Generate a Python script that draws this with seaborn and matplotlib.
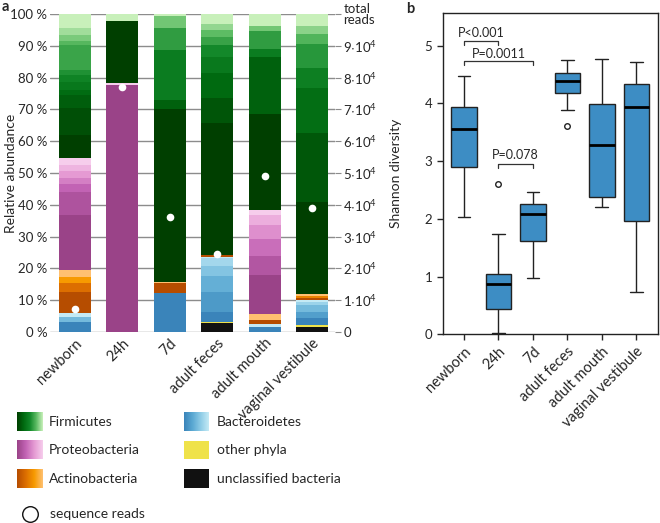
import numpy as np
import pandas as pd
import matplotlib.pyplot as plt
import matplotlib.colors as mcolors
from matplotlib.patches import Circle
import seaborn as sns

sns.set_style("ticks")
plt.rcParams["font.family"] = ["Lato", "DejaVu Sans"]
plt.rcParams["mathtext.default"] = "regular"

# -------------------------------
# Data
# -------------------------------
samples = ["newborn", "24h", "7d", "adult feces", "adult mouth", "vaginal vestibule"]
phyla = ["unclassified", "other", "Bacteroidetes", "Actinobacteria", "Proteobacteria", "Firmicutes"]

# relative abundance (%) of taxa, bottom to top, dark -> light inside a phylum
newborn = {
    "Bacteroidetes": [3.2, 1.6, 1.1],
    "Actinobacteria": [6.8, 2.6, 2.1, 2.1],
    "Proteobacteria": [17.3, 7.3, 2.4, 2.0, 2.0, 2.0, 2.1],
    "Firmicutes": [7.2, 8.5, 4.2, 1.6, 2.4, 2.3, 1.6, 7.9, 1.2, 1.9, 2.3, 4.3],
}
h24 = {
    "Proteobacteria": [77.8, 0.4],
    "Firmicutes": [19.6, 2.2],
}
d7 = {
    "Bacteroidetes": [12.2],
    "Actinobacteria": [3.1, 0.3],
    "Firmicutes": [54.4, 3.0, 15.6, 7.1, 3.7, 0.6],
}
adult_feces = {
    "unclassified": [2.9],
    "other": [0.4],
    "Bacteroidetes": [3.0, 6.2, 5.0, 3.1, 2.7, 0.3],
    "Actinobacteria": [0.6],
    "Firmicutes": [41.4, 8.1, 7.6, 5.3, 3.7, 2.6, 2.1, 1.8, 3.2],
}
adult_mouth = {
    "Bacteroidetes": [1.7, 0.8],
    "Actinobacteria": [1.3, 1.9],
    "Proteobacteria": [12.3, 5.8, 5.5, 4.5, 3.1, 1.5],
    "Firmicutes": [30.1, 17.9, 2.5, 5.6, 1.7, 3.8],
}
vaginal = {
    "unclassified": [1.5],
    "other": [0.7],
    "Bacteroidetes": [2.1, 2.1, 2.1, 1.0, 0.5],
    "Actinobacteria": [0.7, 0.6, 0.7],
    "Firmicutes": [28.9, 21.6, 14.3, 6.1, 7.6, 3.1, 2.7, 3.7],
}
compositions = [newborn, h24, d7, adult_feces, adult_mouth, vaginal]

# total sequence reads per sample
read_counts = [7200, 76900, 36100, 24600, 48900, 39000]

# Shannon diversity box summaries
shannon_low = [2.03, 0.02, 0.98, 3.88, 2.21, 0.74]
shannon_q1 = [2.89, 0.43, 1.62, 4.18, 2.38, 1.97]
shannon_med = [3.56, 0.87, 2.09, 4.38, 3.28, 3.93]
shannon_q3 = [3.93, 1.05, 2.25, 4.52, 3.99, 4.33]
shannon_high = [4.47, 1.73, 2.47, 4.75, 4.77, 4.71]
shannon_out = [[], [2.60], [], [3.61], [], []]

pvals = [("P<0.001", 0, 1, 5.08, 5.22), ("P=0.0011", 0, 2, 4.73, 4.86), ("P=0.078", 1, 2, 2.95, 3.10)]

# -------------------------------
# Colours
# -------------------------------
cmaps = {
    "Firmicutes": mcolors.LinearSegmentedColormap.from_list(
        "firm", ["#003f00", "#006a10", "#12882a", "#5cbb63", "#c8f0ba"]),
    "Proteobacteria": mcolors.LinearSegmentedColormap.from_list(
        "prot", ["#9a4388", "#c263b4", "#e59ad3", "#f6cdec"]),
    "Actinobacteria": mcolors.LinearSegmentedColormap.from_list(
        "acti", ["#b64d00", "#dc6e00", "#f79a00", "#ffc070"]),
    "Bacteroidetes": mcolors.LinearSegmentedColormap.from_list(
        "bact", ["#3a84ba", "#5aa8d2", "#8dcbe6", "#c4eaf5"]),
}
flat = {"unclassified": "#111111", "other": "#efe24a"}
box_color = "#3d8dc4"

fig = plt.figure(figsize=(6.6, 5.23), dpi=100)

# legend canvas in pixel coordinates
ax_leg = fig.add_axes([0, 0, 1, 1])
ax_leg.set_xlim(0, 660)
ax_leg.set_ylim(523, 0)
ax_leg.axis("off")

# -------------------------------
# Panel a: stacked composition
# -------------------------------
ax_a = fig.add_axes([50 / 660, 1 - 332 / 523, 285 / 660, 318 / 523])

rows = []
for s, comp in zip(samples, compositions):
    bottom = 0.0
    for ph in phyla:
        vals = comp.get(ph, [])
        n = len(vals)
        for i, v in enumerate(vals):
            t = i / (n - 1) if n > 1 else 0.0
            col = cmaps[ph](t) if ph in cmaps else flat[ph]
            rows.append({"sample": s, "bottom": bottom, "value": v, "color": col})
            bottom += v
seg = pd.DataFrame(rows)

for _, r in seg.iterrows():
    sns.barplot(x=[r["sample"]], y=[r["value"]], order=samples, bottom=r["bottom"],
                color=r["color"], width=0.68, saturation=1, linewidth=0,
                errorbar=None, ax=ax_a)

ax_a.set_ylim(0, 100)
ax_a.set_yticks(np.arange(0, 101, 10))
ax_a.set_yticklabels([f"{v} %" for v in range(0, 101, 10)], fontsize=9.5)
ax_a.yaxis.grid(True, color="#8c8c8c", lw=1)
ax_a.set_axisbelow(True)
for sp in ax_a.spines.values():
    sp.set_visible(False)
ax_a.tick_params(axis="y", length=0, pad=2)
ax_a.tick_params(axis="x", length=0, pad=3)
ax_a.set_xlabel("")
ax_a.set_ylabel("Relative abundance", fontsize=10)
ax_a.yaxis.set_label_coords(-0.115, 0.5)

ax_r = ax_a.twinx()
sns.stripplot(x=samples, y=read_counts, order=samples, jitter=False, color="white",
              size=5.5, linewidth=0, ax=ax_r)
ax_r.set_ylim(0, 1e5)
ax_r.set_yticks(np.arange(0, 1e5 + 1, 1e4))
ax_r.set_yticklabels(["0"] + [rf"${k}{{\cdot}}10^4$" for k in range(1, 10)] + ["total\nreads"],
                     fontsize=9.5, linespacing=0.85)
ax_r.tick_params(axis="y", length=4, color="#8c8c8c", pad=2)
for sp in ax_r.spines.values():
    sp.set_visible(False)
ax_r.set_ylabel("")
ax_a.set_xlim(-0.52, 5.48)
ax_a.set_xticks(range(len(samples)))
ax_a.set_xticklabels(samples, rotation=45, ha="right", rotation_mode="anchor", fontsize=10.5)

# -------------------------------
# Panel b: Shannon diversity
# -------------------------------
ax_b = fig.add_axes([442.7 / 660, 1 - 334.3 / 523, 215.6 / 660, 321 / 523])

div_rows = []
for s, lo, q1, md, q3, hi, out in zip(samples, shannon_low, shannon_q1, shannon_med,
                                        shannon_q3, shannon_high, shannon_out):
    pts = [lo, q1, q1, md, md, md, q3, q3, hi]
    for o in out:
        if o > hi:
            pts = pts[:7] + [hi, o]
        else:
            pts = [o, lo] + pts[2:]
    div_rows += [{"sample": s, "shannon": p} for p in pts]
div = pd.DataFrame(div_rows)

sns.boxplot(data=div, x="sample", y="shannon", order=samples, color=box_color,
            saturation=1, width=0.74, linecolor="#222222", linewidth=1,
            flierprops=dict(marker="o", markersize=4, markerfacecolor="white",
                            markeredgecolor="#222222", markeredgewidth=1),
            medianprops=dict(color="black", linewidth=2), ax=ax_b)

for txt, x1, x2, y, ty in pvals:
    ax_b.plot([x1, x1, x2, x2], [y - 0.07, y, y, y - 0.07], color="#333333", lw=0.9)
    ax_b.text((x1 + x2) / 2, ty, txt, ha="center", va="center", fontsize=9)

ax_b.set_ylim(0, 5.56)
ax_b.set_xlim(-0.62, 5.64)
ax_b.set_yticks(range(6))
ax_b.tick_params(axis="y", labelsize=9.5, length=4, width=1)
ax_b.tick_params(axis="x", labelsize=10.5, length=4, width=1)
ax_b.set_xticks(range(len(samples)))
ax_b.set_xticklabels(samples, rotation=45, ha="right", rotation_mode="anchor")
ax_b.set_xlabel("")
ax_b.set_ylabel("Shannon diversity", fontsize=10)
ax_b.yaxis.set_label_coords(-0.19, 0.5)
for sp in ax_b.spines.values():
    sp.set_color("#222222")
    sp.set_linewidth(1)

# panel letters
fig.text(2 / 660, 1 - 7 / 523, "a", fontsize=10.5, fontweight="bold", va="center")
fig.text(406 / 660, 1 - 9 / 523, "b", fontsize=10.5, fontweight="bold", va="center")

# -------------------------------
# Legend
# -------------------------------
grad = np.linspace(0, 1, 64).reshape(1, -1)
legend_items = [
    ("Firmicutes", 16.7, 412.7), ("Proteobacteria", 16.7, 440.7), ("Actinobacteria", 16.7, 469.3),
    ("Bacteroidetes", 184.3, 412.7), ("other", 184.3, 440.7), ("unclassified", 184.3, 469.3),
]
legend_text = {"other": "other phyla", "unclassified": "unclassified bacteria"}
for ph, x0, y0 in legend_items:
    if ph in cmaps:
        ax_leg.imshow(grad, cmap=cmaps[ph], aspect="auto", extent=[x0, x0 + 25, y0 + 18.5, y0])
    else:
        ax_leg.add_patch(plt.Rectangle((x0, y0), 25, 18.5, color=flat[ph], lw=0))
    ax_leg.text(x0 + 32.5, y0 + 9.5, legend_text.get(ph, ph), fontsize=10, va="center")
ax_leg.add_patch(Circle((30.5, 514.5), 7.8, fill=False, lw=1, color="#111111"))
ax_leg.text(50, 513.5, "sequence reads", fontsize=10, va="center")
ax_leg.set_xlim(0, 660)
ax_leg.set_ylim(523, 0)

plt.savefig("out.png", dpi=100)
